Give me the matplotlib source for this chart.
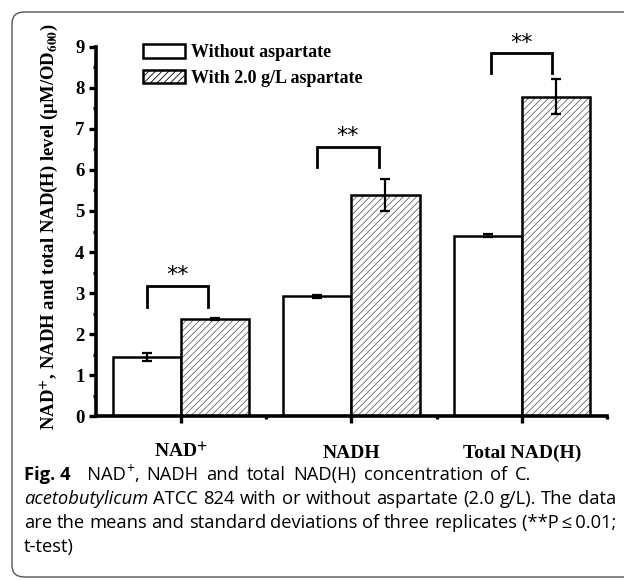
import matplotlib
matplotlib.use("Agg")
import matplotlib.pyplot as plt
import numpy as np
from matplotlib.patches import FancyBboxPatch, Patch

# ---- data ----
categories = ["NAD$^{\\mathbf{+}}$", "NADH", "Total NAD(H)"]
without_vals = [1.45, 2.92, 4.40]
without_err = [0.09, 0.04, 0.03]
with_vals = [2.37, 5.39, 7.78]
with_err = [0.03, 0.38, 0.43]
series_labels = ["Without aspartate", "With 2.0 g/L aspartate"]
sig_labels = ["**", "**", "**"]
bracket_top = [3.18, 6.56, 8.84]
bracket_bottom = [2.67, 6.07, 8.36]
yticks = [0, 1, 2, 3, 4, 5, 6, 7, 8, 9]

plt.rcParams["mathtext.fontset"] = "stix"
plt.rcParams["hatch.linewidth"] = 0.6

SERIF = "Liberation Serif"
W, H = 624, 580
fig = plt.figure(figsize=(W / 100, H / 100), dpi=100)
ax = fig.add_axes([0.1532, 0.2819, 0.8196, 0.6379])

x = np.arange(len(categories))
w = 0.4
xl = x - w / 2
xr = x + w / 2

ax.bar(xl, without_vals, width=w, color="white", edgecolor="black", linewidth=1.8, zorder=2)
ax.bar(xr, with_vals, width=w, color="white", edgecolor="#666666", linewidth=0,
       hatch="/////", zorder=2)
ax.bar(xr, with_vals, width=w, color="none", edgecolor="black", linewidth=1.8, zorder=3)

ax.errorbar(xl, without_vals, yerr=without_err, fmt="none", ecolor="black",
            elinewidth=1.6, capsize=3.5, capthick=1.6, zorder=4)
ax.errorbar(xr, with_vals, yerr=with_err, fmt="none", ecolor="black",
            elinewidth=1.6, capsize=3.5, capthick=1.6, zorder=4)

# significance brackets
b_left = [-0.2, -0.2, -0.18]
b_right = [0.16, 0.16, 0.18]
for i in range(len(categories)):
    l = x[i] + b_left[i]
    r = x[i] + b_right[i]
    ax.plot([l, l, r, r], [bracket_bottom[i], bracket_top[i], bracket_top[i], bracket_bottom[i]],
            color="black", lw=2.0, solid_joinstyle="miter", clip_on=False, zorder=5)
    ax.text((l + r) / 2, bracket_top[i] + 0.01, sig_labels[i], ha="center", va="bottom",
            fontsize=16, family="DejaVu Sans", clip_on=False)

ax.set_xlim(-0.5, 2.5)
ax.set_ylim(0, 9)
for s in ["top", "right"]:
    ax.spines[s].set_visible(False)
for s in ["left", "bottom"]:
    ax.spines[s].set_linewidth(2.6)

ax.set_yticks(yticks)
ax.set_yticks(np.arange(0.5, 9, 1.0), minor=True)
ax.set_xticks(x)
ax.set_xticks([0.5, 1.5, 2.5], minor=True)
ax.tick_params(axis="both", which="major", direction="out", length=5, width=2.4, color="black")
ax.tick_params(axis="both", which="minor", direction="out", length=2.5, width=2.4)
ax.tick_params(axis="y", which="major", pad=3)
ax.set_yticklabels([str(v) for v in yticks], fontsize=13.5, fontweight="bold", family=SERIF)
ax.set_xticklabels(categories, fontsize=14, fontweight="bold", family=SERIF)
ax.tick_params(axis="x", which="major", pad=25)
for lab in ax.get_xticklabels():
    lab.set_va("baseline")

ax.set_ylabel("NAD$^{\\mathbf{+}}$, NADH and total NAD(H) level (\u03bcM/OD$_{\\mathbf{600}}$)",
              fontsize=13.5, fontweight="bold", family=SERIF, labelpad=10)
ax.yaxis.label.set_y(0.5135)

# legend
h1 = Patch(facecolor="white", edgecolor="black", linewidth=1.8)
h2 = Patch(facecolor="white", edgecolor="black", linewidth=1.8, hatch="/////")
leg = ax.legend([h1, h2], series_labels, loc="upper left", bbox_to_anchor=(0.093, 1.006),
                frameon=False, prop={"family": SERIF, "weight": "bold", "size": 13},
                handlelength=2.3, handleheight=0.8, handletextpad=0.35, labelspacing=0.45,
                borderaxespad=0, borderpad=0)

# outer rounded frame
frame = FancyBboxPatch((12 / W, 3 / H), 640 / W, 565 / H,
                       boxstyle="round,pad=0,rounding_size=0.02",
                       transform=fig.transFigure, facecolor="none",
                       edgecolor="#555555", linewidth=1.0, clip_on=False)
fig.patches.append(frame)

# ---- caption built word by word ----
CAP = ["Open Sans", "DejaVu Sans"]
cs = 13.2
R = "normal"
cap_lines = [
    [[("Fig.\u00a04", R, "bold", 0)], [("\u2002NAD", R, R, 0), ("+", R, R, 1), (",", R, R, 0)],
     [("NADH", R, R, 0)], [("and", R, R, 0)], [("total", R, R, 0)], [("NAD(H)", R, R, 0)],
     [("concentration", R, R, 0)], [("of", R, R, 0)], [("C.", R, R, 0)]],
    [[(s, "italic" if i == 0 else R, R, 0)] for i, s in enumerate(
        "acetobutylicum ATCC 824 with or without aspartate (2.0 g/L). The data".split(" "))],
    [[(s, R, R, 0)] for s in
     "are the means and standard deviations of three replicates (**P\u2009\u2264\u20090.01;".split(" ")],
    [[("t-test)", R, R, 0)]],
]
# None -> justify to right margin, number -> multiple of natural space width
spacing = [1.6, None, None, 1.0]
baselines = [100, 76, 52, 28]
x_left, x_right = 24, 616

renderer = fig.canvas.get_renderer()


def seg_size(sup):
    return cs * 0.75 if sup else cs


def measure(txt, style, weight, size):
    t = fig.text(0, 0, txt, fontsize=size, family=CAP, style=style, weight=weight)
    wd = t.get_window_extent(renderer).width
    t.remove()
    return wd


space_w = measure("a a", R, R, cs) - measure("aa", R, R, cs)

for words, by, sp_mode in zip(cap_lines, baselines, spacing):
    seg_w = [[measure(t, st, wt, seg_size(sp)) for (t, st, wt, sp) in word] for word in words]
    word_w = [sum(s) for s in seg_w]
    if sp_mode is None and len(words) > 1:
        gap = (x_right - x_left - sum(word_w)) / (len(words) - 1)
    else:
        gap = space_w * (sp_mode if sp_mode else 1.0)
    cx = x_left
    for word, sws in zip(words, seg_w):
        for (t, st, wt, sp), sw in zip(word, sws):
            yy = by + (7 if sp else 0)
            fig.text(cx / W, yy / H, t, fontsize=seg_size(sp), family=CAP, style=st,
                     weight=wt, va="baseline", ha="left")
            cx += sw
        cx += gap

fig.savefig("out.png", dpi=100)
